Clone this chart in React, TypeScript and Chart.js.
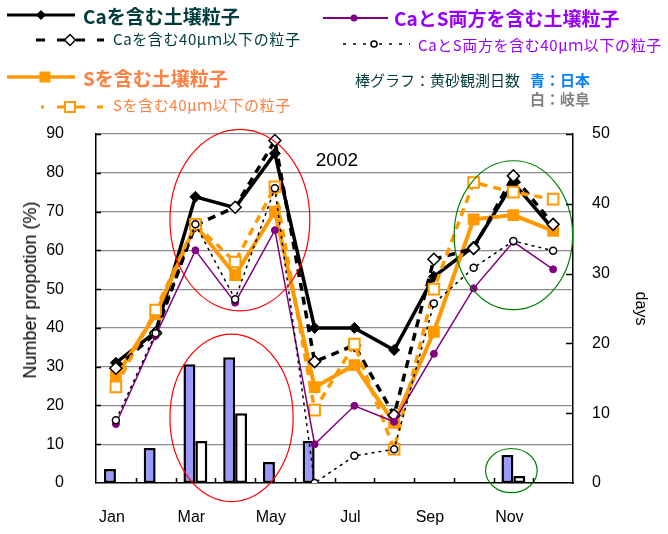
import React, { useEffect, useRef } from 'react';
import { Chart, registerables } from 'chart.js';

Chart.register(...registerables);

// ---- data ----
const months = ['Jan', 'Feb', 'Mar', 'Apr', 'May', 'Jun', 'Jul', 'Aug', 'Sep', 'Oct', 'Nov', 'Dec'];
const xTickLabels = ['Jan', '', 'Mar', '', 'May', '', 'Jul', '', 'Sep', '', 'Nov', ''];

const caSoil = [31, 39, 73.8, 71, 85, 40, 40, 34.3, 53.2, 61, 77.4, 65.5];
const ca40 = [29.6, 38.6, 66.5, 71.1, 88.3, 31.3, 35.5, 17.5, 57.7, 60.5, 79.2, 66.7];
const sSoil = [27.5, 43.5, 66.5, 53.6, 70, 24.7, 30.4, 15.5, 39, 68, 69.1, 65];
const s40 = [24.8, 44.6, 66.7, 57, 76.4, 18.8, 35.8, 8.7, 50, 77.5, 75, 73.2];
const caSSoil = [15.2, 38, 60, 46.5, 65.2, 10, 19.9, 15.8, 33.3, 50.2, 62.2, 55.1];
const caS40 = [16.2, 38.6, 66.7, 47.4, 76, 0, 7, 8.7, 46.3, 55.5, 62.4, 59.9];

const japanDays = [2, 5, 17, 18, 3, 6, null, null, null, null, 4, null];
const gifuDays = [null, null, 6, 10, null, null, null, null, null, null, 1, null];

const leftAxisRange = [0, 90];
const rightAxisRange = [0, 50];

const yearLabel = '2002';

// highlight ellipses in data units (category index, left-axis value)
const highlightEllipses = [
  { cx: 3.12, cy: 67.8, rx: 1.76, ry: 23.4, color: '#ff0000' },
  { cx: 2.91, cy: 16.8, rx: 1.55, ry: 21.6, color: '#ff0000' },
  { cx: 10.0, cy: 63.9, rx: 1.49, ry: 19.2, color: '#008000' },
  { cx: 9.95, cy: 3.2, rx: 0.65, ry: 5.7, color: '#008000' },
];
const yearLabelPos = { x: 5.56, y: 83 };

const decorPlugin = {
  id: 'decor',
  afterDatasetsDraw(chart: any) {
    const { ctx, scales } = chart;
    const x = scales.x;
    const y = scales.y;
    ctx.save();
    ctx.lineWidth = 1.2;
    for (const e of highlightEllipses) {
      const px = x.getPixelForValue(e.cx);
      const rxPx = x.getPixelForValue(e.cx + e.rx) - px;
      const py = y.getPixelForValue(e.cy);
      const ryPx = py - y.getPixelForValue(e.cy + e.ry);
      ctx.beginPath();
      ctx.strokeStyle = e.color;
      ctx.ellipse(px, py, rxPx, ryPx, 0, 0, Math.PI * 2);
      ctx.stroke();
    }
    ctx.fillStyle = '#000';
    ctx.font = '19px "Liberation Sans", Arial, sans-serif';
    ctx.textAlign = 'center';
    ctx.textBaseline = 'middle';
    ctx.fillText(yearLabel, x.getPixelForValue(yearLabelPos.x), y.getPixelForValue(yearLabelPos.y));
    ctx.restore();
  },
  afterDraw(chart: any) {
    const { ctx, scales, chartArea } = chart;
    const x = scales.x;
    const y = scales.y;
    const y1 = scales.y1;
    ctx.save();
    ctx.strokeStyle = '#000';
    ctx.lineWidth = 1.5;
    ctx.beginPath();
    for (let i = 1; i < months.length; i++) {
      const px = Math.round(x.getPixelForValue(i - 0.5)) + 0.5;
      ctx.moveTo(px, chartArea.bottom);
      ctx.lineTo(px, chartArea.bottom - 5);
    }
    for (let v = leftAxisRange[0] + 10; v <= leftAxisRange[1]; v += 10) {
      const py = Math.round(y.getPixelForValue(v)) + 0.5;
      ctx.moveTo(chartArea.left, py);
      ctx.lineTo(chartArea.left + 5, py);
    }
    for (let v = rightAxisRange[0] + 10; v <= rightAxisRange[1]; v += 10) {
      const py = Math.round(y1.getPixelForValue(v)) + 0.5;
      ctx.moveTo(chartArea.right - 7, py);
      ctx.lineTo(chartArea.right, py);
    }
    ctx.stroke();
    ctx.restore();
  },
};

const tickFont = { family: '"Liberation Sans", Arial, sans-serif', size: 16 };

const TEAL = '#003c3c';
const PURPLE_TXT = '#9900ff';
const ORANGE_TXT = '#ff8040';
const ORANGE = '#ff9900';
const PURPLE = '#800080';

const jp = '"Noto Sans CJK JP", sans-serif';

function Legend() {
  const txt = (
    text: string,
    left: number,
    cy: number,
    size: number,
    color: string,
    bold: boolean,
    spacing = 0
  ) => (
    <div
      style={{
        position: 'absolute',
        left,
        top: cy - size * 0.6,
        height: size * 1.2,
        lineHeight: `${size * 1.2}px`,
        fontSize: size,
        fontFamily: jp,
        fontWeight: bold ? 700 : 400,
        color,
        whiteSpace: 'nowrap',
        letterSpacing: spacing,
      }}
    >
      {text}
    </div>
  );
  return (
    <>
      <svg
        width={668}
        height={125}
        style={{ position: 'absolute', left: 0, top: 0, pointerEvents: 'none' }}
      >
        {/* Ca solid */}
        <line x1={7} y1={15} x2={75} y2={15} stroke="#000" strokeWidth={3} />
        <polygon points="41,10 46,15 41,20 36,15" fill="#000" />
        {/* Ca 40 dashed */}
        <line x1={36} y1={40} x2={65} y2={40} stroke="#000" strokeWidth={3} strokeDasharray="9 12" />
        <line x1={76} y1={40} x2={104} y2={40} stroke="#000" strokeWidth={3} strokeDasharray="9 12" />
        <polygon points="70,34.5 75.5,40 70,45.5 64.5,40" fill="#fff" stroke="#000" strokeWidth={1.5} />
        {/* S solid */}
        <line x1={7} y1={77} x2={75} y2={77} stroke={ORANGE} strokeWidth={3.5} />
        <rect x={39.5} y={71.5} width={11} height={11} fill={ORANGE} />
        {/* S 40 dashed */}
        <line x1={41} y1={107} x2={65} y2={107} stroke={ORANGE} strokeWidth={3} strokeDasharray="3 13 8 0" />
        <line x1={75} y1={107} x2={103} y2={107} stroke={ORANGE} strokeWidth={3} strokeDasharray="10 12" />
        <rect x={65} y={102} width={10} height={10} fill="#fff" stroke={ORANGE} strokeWidth={2} />
        {/* CaS solid */}
        <line x1={323} y1={18} x2={388} y2={18} stroke={PURPLE} strokeWidth={2} />
        <circle cx={354} cy={18} r={3.5} fill={PURPLE} />
        {/* CaS 40 dotted */}
        <line x1={343} y1={44} x2={370} y2={44} stroke="#000" strokeWidth={1.5} strokeDasharray="3 7" />
        <line x1={379} y1={44} x2={410} y2={44} stroke="#000" strokeWidth={1.5} strokeDasharray="3 7" />
        <circle cx={374} cy={44} r={3} fill="#fff" stroke="#000" strokeWidth={1.5} />
      </svg>
      {txt('Caを含む土壌粒子', 83, 16, 19, TEAL, true)}
      {txt('Caを含む40μｍ以下の粒子', 113, 39, 15, TEAL, false, 0.6)}
      {txt('Sを含む土壌粒子', 83, 78, 19, ORANGE_TXT, true)}
      {txt('Sを含む40μｍ以下の粒子', 113, 105, 15, ORANGE_TXT, false, 0.6)}
      {txt('CaとS両方を含む土壌粒子', 394, 18, 19, PURPLE_TXT, true)}
      {txt('CaとS両方を含む40μｍ以下の粒子', 418, 45, 15, PURPLE_TXT, false, 0.6)}
      {txt('棒グラフ：黄砂観測日数', 355, 80, 15, TEAL, false)}
      {txt('青：日本', 530, 80, 15, '#0080ff', true)}
      {txt('白：岐阜', 530, 99, 15, '#808080', true)}
      <div
        style={{
          position: 'absolute',
          left: 30,
          top: 290,
          transform: 'translate(-50%, -50%) rotate(-90deg)',
          fontFamily: '"Liberation Sans", Arial, sans-serif',
          fontSize: 18,
          color: '#000',
          whiteSpace: 'nowrap',
          lineHeight: '20px',
        }}
      >
        Number propotion (%)
      </div>
    </>
  );
}

export default function App() {
  const canvasRef = useRef<HTMLCanvasElement | null>(null);

  useEffect(() => {
    if (!canvasRef.current) return;
    const chart = new Chart(canvasRef.current, {
      type: 'bar',
      data: {
        labels: months,
        datasets: [
          {
            type: 'line',
            label: 'CaとS両方を含む40μm以下の粒子',
            data: caS40,
            yAxisID: 'y',
            borderColor: '#000',
            borderWidth: 1.5,
            borderDash: [3, 4],
            pointStyle: 'circle',
            pointRadius: 3.5,
            pointBackgroundColor: '#fff',
            pointBorderColor: '#000',
            pointBorderWidth: 1.5,
            fill: false,
            tension: 0,
            order: 1,
          },
          {
            type: 'line',
            label: 'CaとS両方を含む土壌粒子',
            data: caSSoil,
            yAxisID: 'y',
            borderColor: PURPLE,
            borderWidth: 1.5,
            pointStyle: 'circle',
            pointRadius: 3.5,
            pointBackgroundColor: PURPLE,
            pointBorderColor: PURPLE,
            pointBorderWidth: 1,
            fill: false,
            tension: 0,
            order: 2,
          },
          {
            type: 'line',
            label: 'Sを含む40μm以下の粒子',
            data: s40,
            yAxisID: 'y',
            borderColor: ORANGE,
            borderWidth: 3.5,
            borderDash: [8, 6],
            pointStyle: 'rect',
            pointRadius: 7.5,
            pointBackgroundColor: '#fff',
            pointBorderColor: ORANGE,
            pointBorderWidth: 2,
            fill: false,
            tension: 0,
            order: 3,
          },
          {
            type: 'line',
            label: 'Caを含む40μm以下の粒子',
            data: ca40,
            yAxisID: 'y',
            borderColor: '#000',
            borderWidth: 3.5,
            borderDash: [8, 6],
            pointStyle: 'rectRot',
            pointRadius: 6,
            pointBackgroundColor: '#fff',
            pointBorderColor: '#000',
            pointBorderWidth: 1.5,
            fill: false,
            tension: 0,
            order: 4,
          },
          {
            type: 'line',
            label: 'Sを含む土壌粒子',
            data: sSoil,
            yAxisID: 'y',
            borderColor: ORANGE,
            borderWidth: 4,
            pointStyle: 'rect',
            pointRadius: 8.3,
            pointBackgroundColor: ORANGE,
            pointBorderColor: ORANGE,
            pointBorderWidth: 0,
            fill: false,
            tension: 0,
            order: 5,
          },
          {
            type: 'line',
            label: 'Caを含む土壌粒子',
            data: caSoil,
            yAxisID: 'y',
            borderColor: '#000',
            borderWidth: 3.5,
            pointStyle: 'rectRot',
            pointRadius: 5.5,
            pointBackgroundColor: '#000',
            pointBorderColor: '#000',
            pointBorderWidth: 1,
            fill: false,
            tension: 0,
            order: 6,
          },
          {
            type: 'bar',
            label: '日本',
            data: japanDays,
            yAxisID: 'y1',
            backgroundColor: '#9999ff',
            borderColor: '#000',
            borderWidth: 2.5,
            borderSkipped: false,
            categoryPercentage: 0.6,
            barPercentage: 1.0,
            order: 7,
          },
          {
            type: 'bar',
            label: '岐阜',
            data: gifuDays,
            yAxisID: 'y1',
            backgroundColor: '#ffffff',
            borderColor: '#000',
            borderWidth: 2.5,
            borderSkipped: false,
            categoryPercentage: 0.6,
            barPercentage: 1.0,
            order: 8,
          },
        ] as any,
      },
      options: {
        animation: false,
        responsive: false,
        events: [],
        layout: { padding: { top: 134, left: 0, right: 0, bottom: 0 } },
        plugins: {
          legend: { display: false },
          tooltip: { enabled: false },
          title: { display: false },
        },
        scales: {
          x: {
            offset: true,
            grid: { display: false, drawTicks: false, offset: true },
            border: { display: true, color: '#000', width: 1.5 },
            ticks: {
              autoSkip: false,
              maxRotation: 0,
              padding: 25,
              labelOffset: -4,
              color: '#000',
              font: tickFont,
              callback: (_v: any, i: number) => xTickLabels[i],
            },
            afterFit: (s: any) => {
              s.height = 51;
            },
          },
          y: {
            position: 'left',
            min: leftAxisRange[0],
            max: leftAxisRange[1],
            ticks: { stepSize: 10, padding: 32, color: '#000', font: tickFont },
            grid: {
              drawTicks: false,
              color: (c: any) => (c.tick && c.tick.value === 0 ? 'rgba(0,0,0,0)' : '#8c8c8c'),
              lineWidth: 1.2,
            },
            border: { display: true, color: '#000', width: 1.5 },
            afterFit: (s: any) => {
              s.width = 96;
            },
          },
          y1: {
            position: 'right',
            min: rightAxisRange[0],
            max: rightAxisRange[1],
            ticks: { stepSize: 10, padding: 19, color: '#000', font: tickFont },
            grid: { display: false, drawTicks: false },
            border: { display: true, color: '#000', width: 1.5 },
            title: {
              display: true,
              text: 'days',
              color: '#000',
              font: tickFont,
              padding: { top: 18, bottom: 0 },
            },
            afterFit: (s: any) => {
              s.width = 95;
            },
          },
        },
      } as any,
      plugins: [decorPlugin],
    });
    return () => chart.destroy();
  }, []);

  return (
    <div style={{ position: 'absolute', left: 0, top: 0, width: 668, height: 534, background: '#fff' }}>
      <canvas ref={canvasRef} width={668} height={534} style={{ width: 668, height: 534, display: 'block' }} />
      <Legend />
    </div>
  );
}
